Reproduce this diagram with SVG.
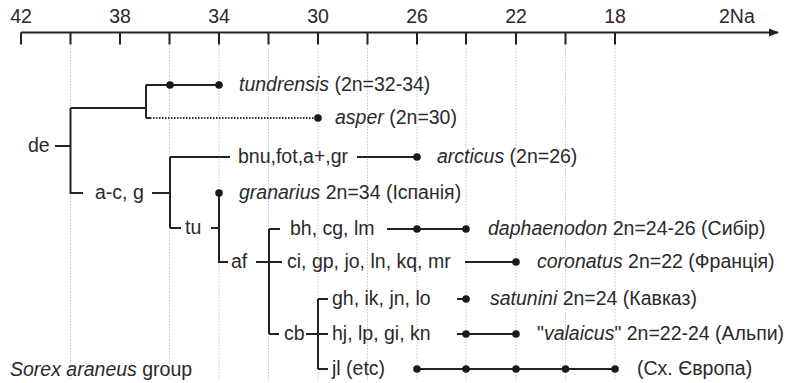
<svg xmlns="http://www.w3.org/2000/svg" width="789" height="383" viewBox="0 0 789 383">
<style>
text{font-family:"Liberation Sans",Arial,sans-serif;font-size:19.5px;fill:#2a2a2a}
.i{font-style:italic}
.ln{stroke:#222;stroke-width:2;fill:none}
.grid{stroke:#c8c8c8;stroke-width:1;stroke-dasharray:1.5 1.5;fill:none}
.dot{fill:#1a1a1a}
</style>
<defs>
<marker id="arr" markerWidth="10" markerHeight="8" refX="9" refY="4" orient="auto" markerUnits="userSpaceOnUse">
<path d="M0,0 L10,4 L0,8 Z" fill="#222"/>
</marker>
</defs>
<rect width="789" height="383" fill="#fff"/>
<g id="grid">
<path class="grid" d="M70.5,45V380 M169.5,45V380 M219,45V380 M268.5,45V380 M318,45V380 M367.5,45V380 M417,45V380 M466,45V380 M516,45V380 M565.5,45V380 M615,45V380"/>
</g>
<g id="axis">
<path class="ln" d="M21,32.5H778" marker-end="url(#arr)"/>
<path class="ln" d="M21,32.5V44.5 M70.5,32.5V44.5 M120,32.5V44.5 M169.5,32.5V44.5 M219,32.5V44.5 M268.5,32.5V44.5 M318,32.5V44.5 M367.5,32.5V44.5 M417,32.5V44.5 M466,32.5V44.5 M516,32.5V44.5 M565.5,32.5V44.5 M615,32.5V44.5"/>
<g text-anchor="middle">
<text x="21" y="23">42</text>
<text x="120" y="23">38</text>
<text x="219" y="23">34</text>
<text x="318" y="23">30</text>
<text x="417" y="23">26</text>
<text x="516" y="23">22</text>
<text x="615" y="23">18</text>
</g>
<text x="719" y="23">2Na</text>
</g>
<g id="connectors">
<path class="ln" d="M146,85V118 M146,85H219 M70.5,108H146 M70.5,108V193H83 M55,146H70.5"/>
<path class="ln" d="M146,118H150"/>
<path class="ln" style="stroke-dasharray:1.5 1.5;stroke:#333" d="M150,118H318"/>
<path class="ln" d="M152,193H170 M170,157V228 M170,157H230 M170,228H181 M357,157H417"/>
<path class="ln" d="M211,228H219 M219,193V262H228"/>
<path class="ln" d="M256,262H282 M269,229V334 M269,229H280 M387,229H466 M465,262H516"/>
<path class="ln" d="M269,334H279 M306,334H328 M318,299V369 M318,299H328 M318,369H328"/>
<path class="ln" d="M457,299H466 M457,334H516 M417,369H615"/>
</g>
<g id="dots">
<circle class="dot" cx="170" cy="85" r="3.8"/>
<circle class="dot" cx="219" cy="85" r="3.8"/>
<circle class="dot" cx="318" cy="118" r="3.8"/>
<circle class="dot" cx="417" cy="157" r="3.8"/>
<circle class="dot" cx="219" cy="193" r="3.8"/>
<circle class="dot" cx="417" cy="229" r="3.8"/>
<circle class="dot" cx="466" cy="229" r="3.8"/>
<circle class="dot" cx="516" cy="262" r="3.8"/>
<circle class="dot" cx="466" cy="299" r="3.8"/>
<circle class="dot" cx="466" cy="334" r="3.8"/>
<circle class="dot" cx="516" cy="334" r="3.8"/>
<circle class="dot" cx="417" cy="369" r="3.8"/>
<circle class="dot" cx="466" cy="369" r="3.8"/>
<circle class="dot" cx="516" cy="369" r="3.8"/>
<circle class="dot" cx="565.5" cy="369" r="3.8"/>
<circle class="dot" cx="615" cy="369" r="3.8"/>
</g>
<g id="n-tundrensis"><text x="239" y="91"><tspan class="i">tundrensis</tspan> (2n=32-34)</text></g>
<g id="n-asper"><text x="335" y="124"><tspan class="i">asper</tspan> (2n=30)</text></g>
<g id="n-de"><text x="28" y="152">de</text></g>
<g id="n-acg"><text x="95" y="199">a-c, g</text></g>
<g id="n-bnu"><text x="238" y="163">bnu,fot,a+,gr</text></g>
<g id="n-arcticus"><text x="437" y="163"><tspan class="i">arcticus</tspan> (2n=26)</text></g>
<g id="n-granarius"><text x="239" y="199"><tspan class="i">granarius</tspan> 2n=34 (Іспанія)</text></g>
<g id="n-tu"><text x="185" y="234">tu</text></g>
<g id="n-bh"><text x="290" y="235">bh, cg, lm</text></g>
<g id="n-daphaenodon"><text x="488" y="235"><tspan class="i">daphaenodon</tspan> 2n=24-26 (Сибір)</text></g>
<g id="n-af"><text x="231" y="268">af</text></g>
<g id="n-ci"><text x="287" y="268">ci, gp, jo, ln, kq, mr</text></g>
<g id="n-coronatus"><text x="537" y="268"><tspan class="i">coronatus</tspan> 2n=22 (Франція)</text></g>
<g id="n-gh"><text x="332" y="305">gh, ik, jn, lo</text></g>
<g id="n-satunini"><text x="490" y="305"><tspan class="i">satunini</tspan> 2n=24 (Кавказ)</text></g>
<g id="n-cb"><text x="284" y="340">cb</text></g>
<g id="n-hj"><text x="332" y="340">hj, lp, gi, kn</text></g>
<g id="n-valaicus"><text x="537" y="340">"<tspan class="i">valaicus</tspan>" 2n=22-24 (Альпи)</text></g>
<g id="n-jl"><text x="332" y="375">jl (etc)</text></g>
<g id="n-europa"><text x="637" y="375">(Сх. Європа)</text></g>
<g id="title"><text x="10" y="376"><tspan class="i">Sorex araneus</tspan> group</text></g>
</svg>
